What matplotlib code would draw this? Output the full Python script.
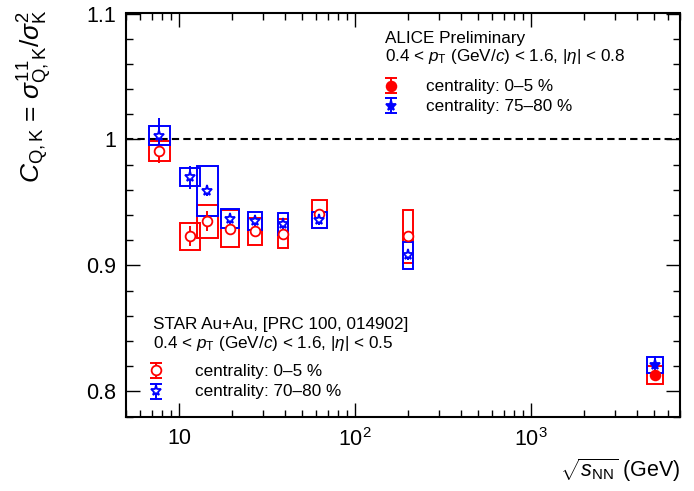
import numpy as np
import matplotlib
matplotlib.use('Agg')
import matplotlib.pyplot as plt
from matplotlib.patches import Rectangle
from matplotlib.lines import Line2D
from matplotlib.ticker import FixedLocator, FuncFormatter, LogLocator, MultipleLocator, NullFormatter

plt.rcParams['font.family'] = ['Liberation Sans', 'DejaVu Sans']
plt.rcParams['mathtext.fontset'] = 'custom'
plt.rcParams['mathtext.rm'] = 'Liberation Sans'
plt.rcParams['mathtext.it'] = 'Liberation Sans:italic'
plt.rcParams['mathtext.bf'] = 'Liberation Sans:bold'

# STAR Au+Au, beam energy scan
star_snn = [7.7, 11.5, 14.5, 19.6, 27, 39, 62.4, 200]
star_c05 = [0.991, 0.923, 0.935, 0.929, 0.927, 0.925, 0.941, 0.923]
star_c05_stat = [0.010, 0.008, 0.008, 0.004, 0.004, 0.004, 0.004, 0.003]
star_c05_sys = [0.008, 0.011, 0.013, 0.0146, 0.011, 0.0115, 0.011, 0.021]
star_c7080 = [1.003, 0.970, 0.959, 0.937, 0.935, 0.933, 0.936, 0.908]
star_c7080_stat = [0.014, 0.009, 0.004, 0.004, 0.004, 0.004, 0.004, 0.004]
star_c7080_sys = [0.0074, 0.0073, 0.0197, 0.0076, 0.007, 0.0088, 0.0065, 0.0106]

# ALICE Pb-Pb 5.02 TeV
alice_snn = [5020]
alice_c05 = [0.8128]
alice_c05_stat = [0.003]
alice_c05_sys = [0.0073]
alice_c7580 = [0.821]
alice_c7580_stat = [0.007]
alice_c7580_sys = [0.0064]

# half widths of the systematic boxes, in pixels
star_box_hw = [10.5, 10, 10.5, 9, 7, 5, 7.5, 5]
alice_box_hw = [8]

W, H = 694, 491
fig = plt.figure(figsize=(W / 100, H / 100), dpi=100)
ax = fig.add_axes([126 / W, 1 - 416.5 / H, (680 - 126) / W, (416.5 - 13.5) / H])
xmin, xmax = 5, 7000
ax.set_xscale('log')
ax.set_xlim(xmin, xmax)
ax.set_ylim(0.78, 1.1)

px_per_dec = (680 - 126) / np.log10(xmax / xmin)

ax.axhline(1.0, color='black', lw=1.5, ls=(0, (3.5, 2)), zorder=1)


def draw_points(x, y, stat, sys, hw, color, marker, mfc, ms):
    for xi, yi, sy, h in zip(x, y, sys, hw):
        f = 10 ** (h / px_per_dec)
        ax.add_patch(Rectangle((xi / f, yi - sy), xi * f - xi / f, 2 * sy,
                               fill=False, ec=color, lw=1.4, zorder=2))
    ax.errorbar(x, y, yerr=stat, fmt=marker, color=color, mfc=mfc, mec=color,
                ms=ms, mew=1.3, elinewidth=1.4, capsize=0, zorder=3)


draw_points(star_snn, star_c05, star_c05_stat, star_c05_sys, star_box_hw, 'red', 'o', 'white', 7)
draw_points(star_snn, star_c7080, star_c7080_stat, star_c7080_sys, star_box_hw, 'blue', '*', 'white', 8)
draw_points(alice_snn, alice_c05, alice_c05_stat, alice_c05_sys, alice_box_hw, 'red', 'o', 'red', 7)
draw_points(alice_snn, alice_c7580, alice_c7580_stat, alice_c7580_sys, alice_box_hw, 'blue', '*', 'blue', 8)

# axes styling
for s in ax.spines.values():
    s.set_linewidth(1.5)
ax.xaxis.set_major_locator(FixedLocator([10, 100, 1000]))
ax.xaxis.set_major_formatter(FuncFormatter(
    lambda v, p: {10: '10', 100: '$10^{2}$', 1000: '$10^{3}$'}.get(int(round(v)), '')))
ax.xaxis.set_minor_locator(LogLocator(base=10, subs=np.arange(2, 10)))
ax.xaxis.set_minor_formatter(NullFormatter())
ax.yaxis.set_major_locator(FixedLocator([0.8, 0.9, 1.0, 1.1]))
ax.yaxis.set_major_formatter(FuncFormatter(lambda v, p: '%g' % round(v, 2)))
ax.yaxis.set_minor_locator(MultipleLocator(0.02))
ax.tick_params(which='both', direction='in', top=True, right=True, width=1.0)
ax.tick_params(which='major', length=10, labelsize=15.5)
ax.tick_params(which='minor', length=5)
ax.tick_params(axis='x', which='major', pad=8)
ax.tick_params(axis='y', which='major', pad=7)

# axis titles
fig.text(35 / W, 1 - 10 / H, r'$C_{\rm Q,K}$ = $\sigma^{\rm 11}_{\rm Q,K}/\sigma^{\rm 2}_{\rm K}$',
         rotation=90, ha='center', va='top', fontsize=19)
fig.text(680 / W, 1 - 477 / H, r'$\sqrt{s_{\rm NN}}$ (GeV)', ha='right', va='baseline', fontsize=15.5)

# legends
tr = fig.transFigure


def legend_symbol(xp, yp, color, marker, mfc, ms):
    X, Y = xp / W, 1 - yp / H
    dy = 7.5 / H
    fig.add_artist(Line2D([X, X], [Y - dy, Y + dy], color=color, lw=1.4, transform=tr))
    fig.add_artist(Line2D([X, X], [Y - dy, Y + dy], ls='none', marker='_', ms=8, mew=1.4,
                          color=color, transform=tr))
    fig.add_artist(Line2D([X], [Y], ls='none', marker=marker, ms=ms, mfc=mfc, mec=color,
                          mew=1.3, transform=tr))


def legend_text(xp, yp, s):
    fig.text(xp / W, 1 - yp / H, s, ha='left', va='baseline', fontsize=12.3)


legend_text(385, 43, 'ALICE Preliminary')
legend_text(385, 61, r'0.4 < $p_{\rm T}$ (GeV/$c$) < 1.6, |$\eta$| < 0.8')
legend_symbol(391, 85.8, 'red', 'o', 'red', 7)
legend_text(425.7, 90.7, 'centrality: 0–5 %')
legend_symbol(391, 105.5, 'blue', '*', 'blue', 8)
legend_text(425.7, 110.5, 'centrality: 75–80 %')

legend_text(153.3, 329, 'STAR Au+Au, [PRC 100, 014902]')
legend_text(153.3, 347.7, r'0.4 < $p_{\rm T}$ (GeV/$c$) < 1.6, |$\eta$| < 0.5')
legend_symbol(155.7, 370, 'red', 'o', 'white', 7)
legend_text(195, 375.7, 'centrality: 0–5 %')
legend_symbol(155.7, 391, 'blue', '*', 'white', 8)
legend_text(195, 395.7, 'centrality: 70–80 %')

fig.savefig('out.png', dpi=100)
